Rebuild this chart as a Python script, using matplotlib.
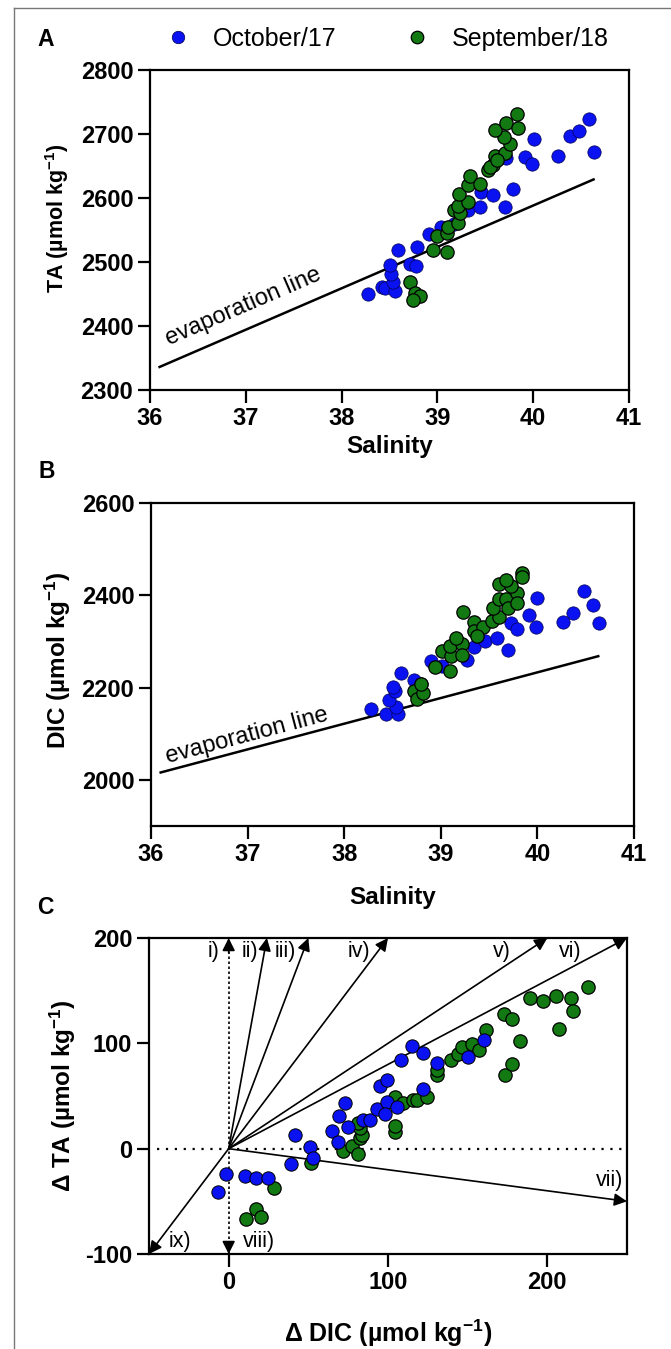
import matplotlib
matplotlib.use('Agg')
import matplotlib.pyplot as plt
from matplotlib.lines import Line2D
import numpy as np

plt.rcParams['font.family'] = ['Liberation Sans', 'DejaVu Sans']
plt.rcParams['mathtext.fontset'] = 'custom'
plt.rcParams['mathtext.rm'] = 'Liberation Sans:bold'
plt.rcParams['mathtext.it'] = 'Liberation Sans:bold'
plt.rcParams['mathtext.bf'] = 'Liberation Sans:bold'
plt.rcParams['mathtext.default'] = 'rm'

# ---------------- data ----------------
series_labels = ['October/17', 'September/18']

# Panel A: salinity vs TA
a_oct_sal = [38.28, 38.42, 38.45, 38.56, 38.54, 38.52, 38.51, 38.59, 38.71, 38.78, 38.79, 38.91,
             39.04, 39.17, 39.32, 39.44, 39.45, 39.58, 39.71, 39.79, 39.72, 39.91, 39.99, 40.01,
             40.26, 40.38, 40.48, 40.58, 40.63]
a_oct_ta = [2450, 2461, 2459, 2455, 2469, 2482, 2495, 2518, 2497, 2494, 2523, 2543,
            2555, 2560, 2581, 2586, 2610, 2605, 2586, 2614, 2662, 2664, 2653, 2692,
            2666, 2697, 2705, 2723, 2672]
a_sep_sal = [38.71, 38.77, 38.82, 38.75, 38.95, 39.10, 39.00, 39.10, 39.11, 39.22, 39.17, 39.24,
             39.22, 39.32, 39.23, 39.32, 39.34, 39.44, 39.53, 39.58, 39.60, 39.71, 39.76, 39.69,
             39.60, 39.72, 39.84, 39.83, 39.55, 39.62]
a_sep_ta = [2468, 2451, 2447, 2441, 2518, 2516, 2540, 2545, 2554, 2561, 2581, 2576,
            2588, 2594, 2607, 2620, 2634, 2622, 2644, 2652, 2665, 2670, 2685, 2696,
            2707, 2717, 2709, 2731, 2649, 2659]
evap_sal = [36.1, 40.63]
evap_ta = [2336, 2629]

# Panel B: salinity vs DIC
b_oct_sal = [38.28, 38.43, 38.56, 38.54, 38.46, 38.53, 38.51, 38.59, 38.72, 38.80, 38.90, 39.01,
             39.27, 39.34, 39.46, 39.58, 39.70, 39.73, 39.79, 39.91, 40.00, 39.99, 40.26, 40.37,
             40.48, 40.58, 40.64]
b_oct_dic = [2154, 2143, 2143, 2158, 2172, 2192, 2202, 2231, 2216, 2207, 2257, 2246,
             2259, 2288, 2301, 2308, 2281, 2339, 2326, 2358, 2394, 2331, 2342, 2361,
             2409, 2380, 2340]
b_sep_sal = [38.72, 38.75, 38.82, 38.80, 38.94, 39.01, 39.10, 39.11, 39.10, 39.22, 39.16, 39.23,
             39.34, 39.34, 39.44, 39.53, 39.60, 39.54, 39.60, 39.68, 39.70, 39.79, 39.60, 39.73,
             39.68, 39.84, 39.84, 39.79, 39.37, 39.22]
b_sep_dic = [2192, 2176, 2189, 2207, 2245, 2279, 2236, 2268, 2290, 2295, 2308, 2363,
             2343, 2322, 2332, 2345, 2354, 2372, 2391, 2391, 2372, 2406, 2425, 2421,
             2434, 2448, 2440, 2383, 2311, 2271]
evap_dic = [2016, 2268]

# Panel C: delta DIC vs delta TA
c_oct_ddic = [-6.7, -1.5, 10.5, 17.4, 24.7, 39.4, 41.5, 50.9, 53.0, 65.0, 68.8, 69.5,
              72.9, 75.0, 84.5, 88.7, 92.9, 99.1, 98.1, 95.0, 99.1, 105.4, 108.0, 115.3,
              121.8, 121.8, 130.6, 150.5, 160.3]
c_oct_dta = [-40.7, -24.0, -25.9, -27.4, -27.4, -14.5, 12.9, 1.9, -8.5, 17.0, 6.6, 30.9,
             43.5, 20.2, 27.1, 27.1, 37.2, 44.5, 32.8, 59.3, 65.0, 39.1, 84.6, 97.5,
             90.9, 56.5, 81.4, 87.1, 102.9]
c_sep_ddic = [10.7, 17.0, 20.5, 28.3, 51.4, 71.9, 77.1, 81.3, 82.4, 83.4, 82.4, 81.3,
              104.4, 104.4, 104.4, 109.6, 115.9, 118.0, 124.3, 130.6, 131.0, 139.4, 144.2, 146.3,
              152.6, 156.8, 161.6, 172.5, 177.7, 173.5, 177.7, 183.0, 189.3, 197.0, 205.6, 207.1,
              214.8, 216.1, 225.3]
c_sep_dta = [-66.9, -57.4, -64.4, -37.5, -13.9, -1.9, 2.8, -5.0, 9.8, 12.9, 19.2, 24.6,
             16.1, 21.5, 49.2, 42.9, 46.1, 46.1, 49.2, 69.7, 75.1, 84.6, 90.2, 96.5,
             99.7, 93.4, 112.3, 128.1, 123.4, 69.7, 80.8, 102.2, 143.2, 140.1, 144.5, 113.9,
             143.2, 130.3, 153.3]

# process vectors (tips, starting from origin)
arrow_labels = ['i)', 'ii)', 'iii)', 'iv)', 'v)', 'vi)', 'vii)', 'viii)', 'ix)']
arrow_ddic = [0, 24, 50, 100, 200, 250, 250, 0, -50]
arrow_dta = [200, 200, 200, 200, 200, 200, -50, -100, -100]

a_xticks = [36, 37, 38, 39, 40, 41]
a_yticks = [2300, 2400, 2500, 2600, 2700, 2800]
b_yticks = [2000, 2200, 2400, 2600]
c_xticks = [0, 100, 200]
c_yticks = [-100, 0, 100, 200]

# ---------------- style ----------------
BLUE = '#0a12f2'
GREEN = '#137a13'
W, H = 671, 1349

fig = plt.figure(figsize=(W / 100, H / 100), dpi=100)


def ax_px(l, t, r, b):
    return fig.add_axes([l / W, 1 - b / H, (r - l) / W, (b - t) / H])


axA = ax_px(150, 70, 629, 390)
axB = ax_px(151, 503, 634, 826)
axC = ax_px(149, 938, 627, 1254)


def style(ax, xt, yt, xlim, ylim):
    ax.set_xlim(*xlim)
    ax.set_ylim(*ylim)
    ax.set_xticks(xt, [str(v) for v in xt], fontweight='bold', fontsize=17)
    ax.set_yticks(yt, [str(v) for v in yt], fontweight='bold', fontsize=17)
    for s in ax.spines.values():
        s.set_linewidth(1.6)
    ax.tick_params(direction='out', length=9, width=1.6, pad=3)


def scat(ax, x, y, color, z, ec, lw):
    ax.scatter(x, y, s=92, c=color, edgecolors=ec, linewidths=lw, zorder=z)


def evap_text(ax, x, y, line_x, line_y):
    p0 = ax.transData.transform((line_x[0], line_y[0]))
    p1 = ax.transData.transform((line_x[1], line_y[1]))
    ang = np.degrees(np.arctan2(p1[1] - p0[1], p1[0] - p0[0]))
    ax.text(x, y, 'evaporation line', rotation=ang, rotation_mode='anchor',
            ha='left', va='baseline', fontsize=17)
    return ang


# Panel A
style(axA, a_xticks, a_yticks, (36, 41), (2300, 2800))
axA.plot(evap_sal, evap_ta, color='k', lw=1.8, zorder=2)
scat(axA, a_oct_sal, a_oct_ta, BLUE, 3, '#000050', 0.5)
scat(axA, a_sep_sal, a_sep_ta, GREEN, 4, 'k', 0.9)
evap_text(axA, 36.2, 2369, evap_sal, evap_ta)
axA.set_xlabel('Salinity', fontsize=17.5, fontweight='bold')
axA.xaxis.set_label_coords(0.5, -0.175)
axA.xaxis.label.set_va('center')
axA.set_ylabel('TA (µmol kg$^{-1}$)', fontsize=15.5, fontweight='bold', va='center')
axA.yaxis.set_label_coords(-0.194, 0.5375)

# Panel B
style(axB, a_xticks, b_yticks, (36, 41), (1900, 2600))
axB.plot(evap_sal, evap_dic, color='k', lw=1.8, zorder=2)
scat(axB, b_oct_sal, b_oct_dic, BLUE, 3, '#000050', 0.5)
scat(axB, b_sep_sal, b_sep_dic, GREEN, 4, 'k', 0.9)
evap_text(axB, 36.17, 2036, evap_sal, evap_dic)
axB.set_xlabel('Salinity', fontsize=17.5, fontweight='bold')
axB.xaxis.set_label_coords(0.5, -0.22)
axB.xaxis.label.set_va('center')
axB.set_ylabel('DIC (µmol kg$^{-1}$)', fontsize=17.5, fontweight='bold', va='center')
axB.yaxis.set_label_coords(-0.1936, 0.515)

# Panel C
style(axC, c_xticks, c_yticks, (-50, 250), (-100, 200))
axC.plot([-45, 250], [0, 0], ls=(0, (1, 3)), lw=1.6, color='k', zorder=1)
axC.plot([0, 0], [min(arrow_dta), max(arrow_dta)], ls=(0, (1.5, 1.5)), lw=1.2, color='k', zorder=1)
label_offsets = [(-9, -13), (-9, -13), (-12, -13), (-18, -13), (-37, -13), (-45, -13),
                 (-4, 21), (14, 13), (20, 13)]
label_ha = ['right'] * 7 + ['left'] * 2
for lab, tx, ty, off, ha in zip(arrow_labels, arrow_ddic, arrow_dta, label_offsets, label_ha):
    if tx == 0:
        start = (0, ty * 0.93)
    else:
        start = (0, 0)
    axC.annotate('', xy=(tx, ty), xytext=start,
                 arrowprops=dict(arrowstyle='-|>', color='k', lw=1.2, mutation_scale=19,
                                 shrinkA=0, shrinkB=0), zorder=2, annotation_clip=False)
    axC.annotate(lab, xy=(tx, ty), xytext=off, textcoords='offset pixels',
                 ha=ha, va='center', fontsize=15.5, annotation_clip=False)
scat(axC, c_sep_ddic, c_sep_dta, GREEN, 3, 'k', 0.9)
scat(axC, c_oct_ddic, c_oct_dta, BLUE, 4, 'k', 0.7)
axC.set_xlabel('Δ DIC (µmol kg$^{-1}$)', fontsize=18, fontweight='bold')
axC.xaxis.set_label_coords(0.5, -0.25)
axC.xaxis.label.set_va('center')
axC.set_ylabel('Δ TA (µmol kg$^{-1}$)', fontsize=17.5, fontweight='bold', va='center')
axC.yaxis.set_label_coords(-0.18, 0.5)

# panel letters
fig.text(37 / W, 1 - 40 / H, 'A', fontsize=16.5, fontweight='bold', va='center', ha='left')
fig.text(39 / W, 1 - 472 / H, 'B', fontsize=16.5, fontweight='bold', va='center', ha='left')
fig.text(37 / W, 1 - 907 / H, 'C', fontsize=16.5, fontweight='bold', va='center', ha='left')

# legend
handles = [Line2D([], [], marker='o', ls='', markersize=9, mfc=BLUE, mec='#000050', mew=0.5),
           Line2D([], [], marker='o', ls='', markersize=9, mfc=GREEN, mec='k', mew=0.9)]
fig.legend(handles, series_labels, loc='center left', bbox_to_anchor=(165 / W, 1 - 39 / H),
           ncol=2, frameon=False, fontsize=18, handlelength=1.0, handletextpad=0.9,
           columnspacing=2.74, borderpad=0, borderaxespad=0)

# figure frame lines
fig.add_artist(Line2D([14 / W, 1], [1 - 8 / H, 1 - 8 / H], color='#777777', lw=1.0,
                      transform=fig.transFigure))
fig.add_artist(Line2D([14 / W, 14 / W], [0, 1 - 8 / H], color='#777777', lw=1.0,
                      transform=fig.transFigure))

fig.savefig('out.png', dpi=100)
